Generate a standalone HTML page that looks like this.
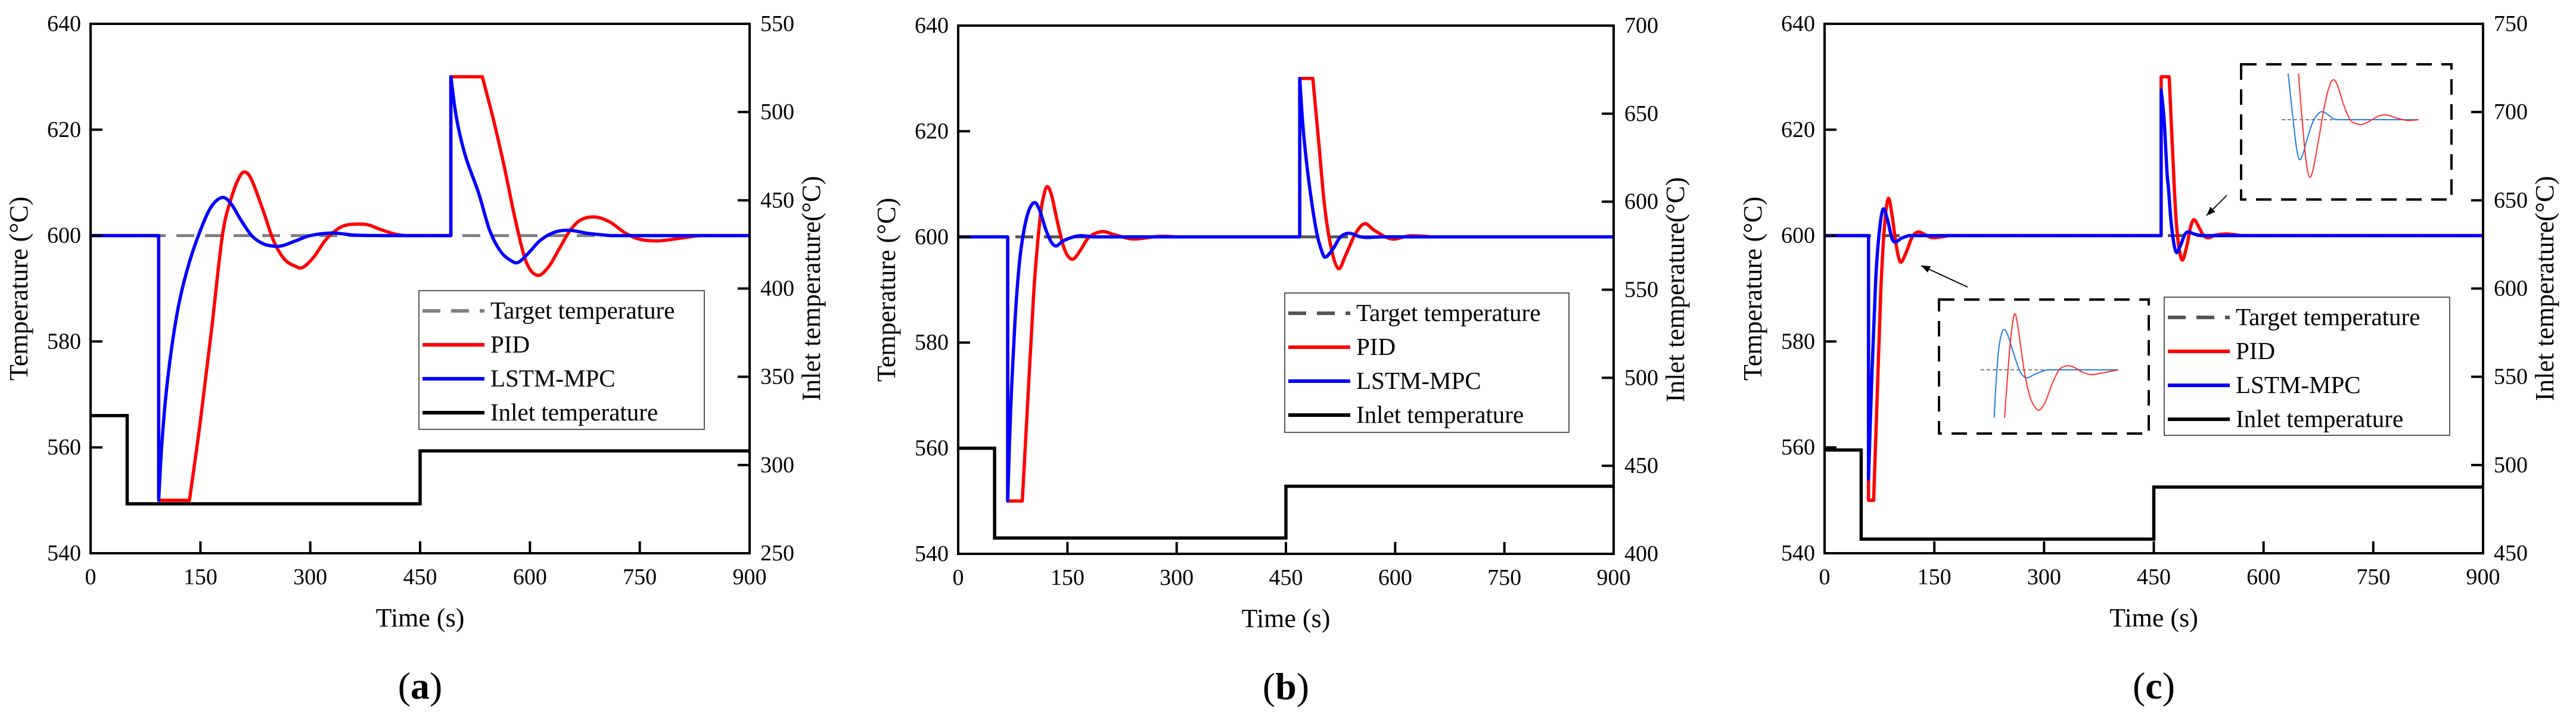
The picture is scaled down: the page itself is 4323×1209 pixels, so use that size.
<!DOCTYPE html>
<html><head><meta charset="utf-8"><style>
html,body{margin:0;padding:0;background:#fff;}
svg{display:block;font-family:"Liberation Serif","DejaVu Serif",serif;}
svg text{font-family:"Liberation Serif","DejaVu Serif",serif;}
</style></head><body>
<svg id="fig" width="4323" height="1209" viewBox="0 0 4323 1209" xmlns="http://www.w3.org/2000/svg" font-family="Liberation Serif, serif"></svg>
<script>
// ---------- DATA ----------
const xTicks = [0,150,300,450,600,750,900];
const leftTicks = [540,560,580,600,620,640];
const rightTicksA = [250,300,350,400,450,500,550];
const rightTicksB = [400,450,500,550,600,650,700];
const rightTicksC = [450,500,550,600,650,700,750];
const targetValue = 600;

const inletA = [[0,328],[50,328],[50,278],[450,278],[450,308],[900,308]];
const pidA = [[0,600],[93,600],[93,550],[135,550],[150,565],[165,582],[180,600],[192,607],[203,611],[211,612],[220,610.5],[235,605],[250,599],[265,595.5],[280,594.2],[290,594],[305,596],[320,599],[335,601],[350,602],[376,602.1],[395,601.2],[415,600.3],[430,600],[492,600],[492,630],[535,630],[550,622],[565,613],[580,603],[595,595],[610,592.5],[625,594],[640,597.5],[655,601],[670,603],[690,603.5],[710,602.5],[730,600.5],[750,599.3],[775,599],[800,599.4],[830,600],[900,600]];
const lstmA = [[0,600],[93,600],[93,550],[97,560],[103,570],[112,580],[122,588],[135,595],[150,601],[165,605.5],[180,607.2],[192,606],[205,603],[220,600],[235,598.5],[250,598],[262,598.1],[280,599],[300,600],[330,600.5],[360,600.1],[400,600],[492,600],[492,630],[500,622],[512,615],[530,608],[545,601],[560,597],[575,595.2],[585,595],[600,597],[615,599.2],[635,600.7],[655,601],[680,600.4],[710,600],[900,600]];

const inletB = [[0,460],[50,460],[50,409],[450,409],[450,438.4],[900,438.4]];
const pidB = [[0,600],[68,600],[68,550],[88,550],[96,570],[104,590],[112,603],[117,607.5],[122,609.5],[128,608],[136,603],[144,598.5],[150,596.5],[158,595.8],[168,597.5],[180,600],[198,601],[215,600.4],[240,599.6],[275,600.1],[300,600],[469,600],[469,630],[487,630],[495,618],[503,606],[512,598],[522,594],[532,596.5],[545,600.5],[558,602.5],[572,601.2],[595,599.6],[620,600.2],[650,600],[900,600]];
const lstmB = [[0,600],[68,600],[68,550],[72,567],[78,584],[84,595],[90,601],[97,605],[105,606.5],[112,605],[120,601.5],[128,599],[135,598.3],[145,599.3],[165,600.2],[185,600],[469,600],[469,630],[474,620],[482,610],[492,601],[500,597],[505,596.2],[515,597.8],[525,600],[537,600.7],[550,600.1],[560,599.9],[580,600],[900,600]];

const inletC = [[0,508.5],[50,508.5],[50,458],[450,458],[450,487.5],[900,487.5]];
const pidC = [[0,600],[60,600],[60,550],[67,550],[72,570],[77,590],[82,602],[87,607],[92,604],[97,599],[101,596],[105,595],[112,597],[120,599.8],[128,600.7],[137,600.2],[148,599.6],[170,600],[460,600],[460,630],[471,630],[476,615],[481,602],[488,595.5],[495,598],[500,601.5],[505,603],[512,601.5],[518,600],[525,599.6],[535,600.1],[550,600.3],[570,600],[900,600]];
const lstmC = [[0,600],[60,600],[60,554],[65,575],[70,592],[75,601],[80,605],[86,603],[92,599.5],[97,598.8],[105,599.5],[115,600],[460,600],[460,627.5],[464,622],[468,612],[470,609],[474,602],[480,597],[486,598],[492,600.1],[497,600.7],[505,600.3],[515,600],[900,600]];

const inset1Lstm = [[9.8,594],[11,598],[13,602.5],[15.5,604.7],[17.6,605],[20,604.2],[24,602],[28,600],[31,599.2],[34,599],[40,599.5],[48,600],[60,600],[100,600]];
const inset1Pid = [[17.3,594],[19,598],[21,602.5],[23,605.7],[24.7,607],[26.5,606],[29,603],[32,599.5],[36,596.5],[40,595.2],[43,595],[47,596],[52,598.3],[57,600],[62.7,600.5],[68,600.3],[74,599.7],[80.4,599.4],[88,599.6],[100,600]];
const inset2Lstm = [[4.7,605.8],[6.5,603],[9,599],[11,596.3],[13,595],[15.5,595.7],[19,597.8],[23,599.8],[27,600.8],[30,601],[34,600.6],[38,600.1],[42,600],[100,600]];
const inset2Pid = [[12.3,605.8],[14,602],[16.5,597],[18.5,594],[20.6,592.8],[23,593.8],[27,597.5],[31,601.5],[35,604.3],[38,605],[41,604.2],[45,602],[50,600],[54.5,599.5],[58.5,599.4],[63,599.7],[70,600.4],[76.3,600.6],[84,600.2],[92,599.9],[100,600]];

const legendLabels = ["Target temperature","PID","LSTM-MPC","Inlet temperature"];

// ---------- DRAW ----------
const NS = "http://www.w3.org/2000/svg";
const svg = document.getElementById('fig');
const FONT = '"Liberation Serif", "DejaVu Serif", serif';
function mk(tag, attrs, parent){
  const e = document.createElementNS(NS, tag);
  for (const k in attrs) e.setAttribute(k, attrs[k]);
  (parent||svg).appendChild(e);
  return e;
}
function txt(s, attrs, parent){ attrs['font-family']=FONT; const e = mk('text', attrs, parent); e.textContent = s; return e; }

// smooth path: Catmull-Rom within chunks, straight segments at vertical jumps and flat holds
function smoothPath(pts){
  const chunks=[]; let cur=[pts[0]];
  for(let i=1;i<pts.length;i++){
    const a=pts[i-1], b=pts[i];
    if(Math.abs(a[0]-b[0])<0.01 || Math.abs(a[1]-b[1])<0.01){
      chunks.push(cur); chunks.push([a,b]); cur=[b];
    } else cur.push(b);
  }
  chunks.push(cur);
  let d='M'+pts[0][0].toFixed(1)+' '+pts[0][1].toFixed(1);
  chunks.forEach(c=>{
    if(c.length<2) return;
    for(let i=0;i<c.length-1;i++){
      const p0=c[i-1]||c[i], p1=c[i], p2=c[i+1], p3=c[i+2]||c[i+1];
      const c1=[p1[0]+(p2[0]-p0[0])/6, p1[1]+(p2[1]-p0[1])/6];
      const c2=[p2[0]-(p3[0]-p1[0])/6, p2[1]-(p3[1]-p1[1])/6];
      d+=` C${c1[0].toFixed(1)} ${c1[1].toFixed(1)} ${c2[0].toFixed(1)} ${c2[1].toFixed(1)} ${p2[0].toFixed(1)} ${p2[1].toFixed(1)}`;
    }
  });
  return d;
}

function panel(cfg){
  const g = mk('g', {});
  
  
  const L=cfg.L,R=cfg.R,T=cfg.T,B=cfg.B;
  const xs = t => L + (t-0)/900*(R-L);
  const yl = v => B - (v-540)/100*(B-T);
  const yr = v => B - (v-cfg.r0)/(cfg.r1-cfg.r0)*(B-T);
  const path = (arr, fy) => arr.map((p,i)=>(i?'L':'M')+xs(p[0]).toFixed(1)+' '+fy(p[1]).toFixed(1)).join(' ');
  const spath = (arr, fy) => smoothPath(arr.map(p=>[xs(p[0]), fy(p[1])]));

  const tgt = mk('line', {x1:xs(0),x2:xs(900),y1:yl(targetValue),y2:yl(targetValue),stroke:cfg.tgtColor,'stroke-width':5,'stroke-dasharray':'30 18'}, g);
  
  
  const inl = mk('path', {d:path(cfg.inlet, yr), fill:'none', stroke:'#000','stroke-width':5.5}, g);
  
  
  const pid = mk('path', {d:spath(cfg.pid, yl), fill:'none', stroke:'#ff0000','stroke-width':5.5,'stroke-linejoin':'round'}, g);
  
  
  const ls = mk('path', {d:spath(cfg.lstm, yl), fill:'none', stroke:'#0000ff','stroke-width':5.5,'stroke-linejoin':'round'}, g);
  
  

  const fr = mk('rect', {x:L,y:T,width:R-L,height:B-T,fill:'none',stroke:'#000','stroke-width':4}, g);
  
  
  xTicks.forEach(t=>{
    mk('line',{x1:xs(t),x2:xs(t),y1:B,y2:B-20,stroke:'#000','stroke-width':4},g);
    const lb = txt(String(t),{x:xs(t),y:B+52,'font-size':38,'text-anchor':'middle'},g);
    
    
  });
  leftTicks.forEach(v=>{
    mk('line',{x1:L,x2:L+20,y1:yl(v),y2:yl(v),stroke:'#000','stroke-width':4},g);
    const lb = txt(String(v),{x:L-16,y:yl(v)+12,'font-size':38,'text-anchor':'end'},g);
    
    
  });
  cfg.rticks.forEach(v=>{
    mk('line',{x1:R,x2:R-20,y1:yr(v),y2:yr(v),stroke:'#000','stroke-width':4},g);
    const lb = txt(String(v),{x:R+18,y:yr(v)+12,'font-size':38,'text-anchor':'start'},g);
    
    
  });
  const cx = (L+R)/2, cy=(T+B)/2;
  const xt = txt('Time (s)',{x:cx,y:B+123,'font-size':44,'text-anchor':'middle'},g);
  
  
  const ylt = txt('Temperature (°C)',{x:0,y:0,'font-size':44,'text-anchor':'middle',transform:`translate(${L-106},${cy}) rotate(-90)`},g);
  
  
  const yrt = txt('Inlet temperature(°C)',{x:0,y:0,'font-size':44,'text-anchor':'middle',transform:`translate(${R+cfg.rt},${cy}) rotate(-90)`},g);
  
  
  const cap = mk('text',{x:cx,y:B+244,'font-size':64,'text-anchor':'middle','font-family':FONT},g);
  
  
  cap.innerHTML = '(<tspan font-weight="bold">'+cfg.id+'</tspan>)';

  const lg = mk('g',{},g);
  
  
  const lx=cfg.leg[0], ly=cfg.leg[1], lw=cfg.leg[2], lh=cfg.leg[3];
  mk('rect',{x:lx,y:ly,width:lw,height:lh,fill:'#fff',stroke:'#222','stroke-width':1.5},lg);
  const cols=[cfg.tgtColor,'#ff0000','#0000ff','#000'];
  legendLabels.forEach((s,i)=>{
    const yy = ly + 34 + i*57;
    const e = mk('g',{},lg);
    
    
    const ln = mk('line',{x1:lx+6,x2:lx+110,y1:yy,y2:yy,stroke:cols[i],'stroke-width':6},e);
    if(i===0) ln.setAttribute('stroke-dasharray','30 18');
    txt(s,{x:lx+120,y:yy+13,'font-size':41},e);
  });
  return {g,xs,yl};
}

panel({id:'a',L:152,R:1258,T:40,B:929,r0:250,r1:550,rt:118,rticks:rightTicksA,tgtColor:'#808080',inlet:inletA,pid:pidA,lstm:lstmA,leg:[703,488,479,233]});
panel({id:'b',L:1608,R:2708,T:43,B:930,r0:400,r1:700,rt:118,rticks:rightTicksB,tgtColor:'#555555',inlet:inletB,pid:pidB,lstm:lstmB,leg:[2156,492,477,234]});
const pc = panel({id:'c',L:3062,R:4167,T:40,B:929,r0:450,r1:750,rt:118,rticks:rightTicksC,tgtColor:'#555555',inlet:inletC,pid:pidC,lstm:lstmC,leg:[3632,499,479,232]});

function inset(name, box, x0, x1, y600, lst, pidd){
  const g = mk('g',{},pc.g);
  
  
  mk('rect',{x:box[0],y:box[1],width:box[2],height:box[3],fill:'none',stroke:'#000','stroke-width':4,'stroke-dasharray':'26 16'},g);
  const sx = t => x0 + t/100*(x1-x0);
  const sy = v => y600 - (v-600)*13.4;
  const p = arr => smoothPath(arr.map(q=>[sx(q[0]), sy(q[1])]));
  mk('line',{x1:sx(0),x2:sx(100),y1:sy(600),y2:sy(600),stroke:'#555','stroke-width':1.5,'stroke-dasharray':'6 4'},g);
  const b = mk('path',{d:p(lst),fill:'none',stroke:'#1e7fe0','stroke-width':2},g);
  
  
  const r = mk('path',{d:p(pidd),fill:'none',stroke:'#ff3030','stroke-width':2},g);
  
  
}
inset('inset-zoom-first-disturbance',[3254,503,352,225],3324,3555,621,inset1Lstm,inset1Pid);
inset('inset-zoom-second-disturbance',[3761,108,353,227],3829,4059,201,inset2Lstm,inset2Pid);

function arrow(name,x1,y1,x2,y2){
  const g = mk('g',{},pc.g);
  
  
  mk('line',{x1,y1,x2,y2,stroke:'#000','stroke-width':1.8},g);
  const a=Math.atan2(y2-y1,x2-x1), s=16, w=0.38;
  const p1=[x2-s*Math.cos(a-w),y2-s*Math.sin(a-w)], p2=[x2-s*Math.cos(a+w),y2-s*Math.sin(a+w)];
  mk('polygon',{points:`${x2},${y2} ${p1[0]},${p1[1]} ${p2[0]},${p2[1]}`,fill:'#000'},g);
}
arrow('inset-arrow-1',3302,482,3224,446);
arrow('inset-arrow-2',3737,328,3703,362);
</script>
</body></html>
